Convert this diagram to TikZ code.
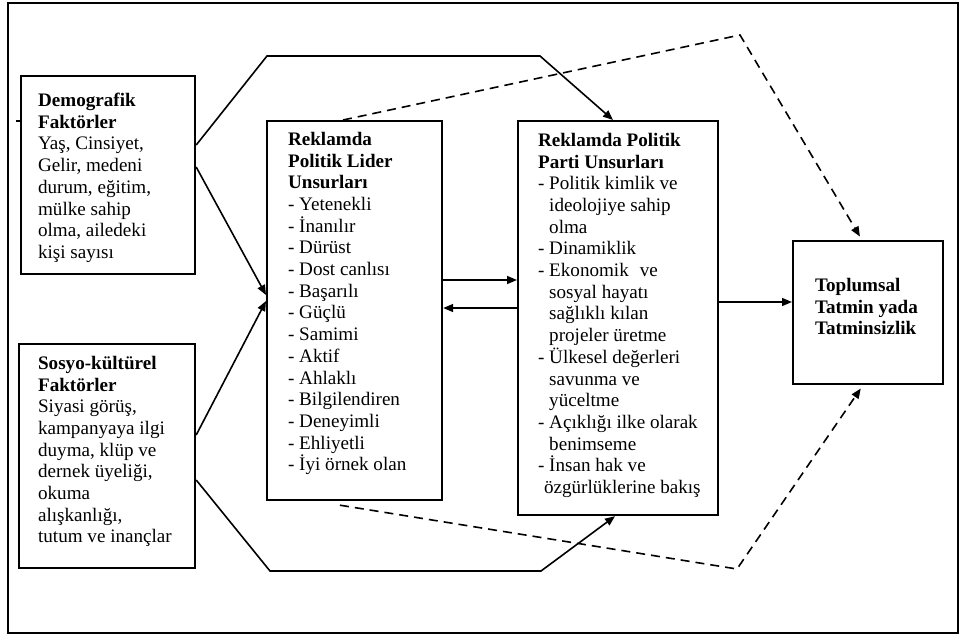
\documentclass[tikz,border=0pt]{standalone}
\usepackage{fontspec}
\setmainfont{Liberation Serif}
\usetikzlibrary{arrows.meta,calc}

\tikzset{
  kutu/.style={draw, line width=2.2pt, anchor=north west, inner sep=0pt},
  ok/.style={line width=1.6pt, -{Triangle[length=10pt,width=8pt]}},
  kesik/.style={ok, dash pattern=on 9pt off 6pt, shorten >=4pt},
}
% genislik, yukseklik, ust bosluk, sol bosluk, metin
\newcommand{\yazi}[5]{\parbox[c][#2pt][t]{#1pt}{\vspace*{#3pt}\leftskip=#4pt\relax
  \fontsize{19.1}{21.7}\selectfont #5}}
\newcommand{\ic}{\hphantom{- }}

\begin{document}
\begin{tikzpicture}[x=1pt, y=-1pt]
\useasboundingbox (0,0) rectangle (965,637);
\draw[line width=2.2pt] (8,3) rectangle (958,633);

\node[kutu] (demo) at (20,75) {\yazi{174}{198}{17}{17}{%
  \textbf{Demografik}\\
  \textbf{Faktörler}\\
  Yaş, Cinsiyet,\\
  Gelir, medeni\\
  durum, eğitim,\\
  mülke sahip\\
  olma, ailedeki\\
  kişi sayısı}};
\node[kutu] (sosyo) at (18,343) {\yazi{176}{224}{12}{19}{%
  \textbf{Sosyo-kültürel}\\
  \textbf{Faktörler}\\
  Siyasi görüş,\\
  kampanyaya ilgi\\
  duyma, klüp ve\\
  dernek üyeliği,\\
  okuma\\
  alışkanlığı,\\
  tutum ve inançlar}};
\node[kutu] (lider) at (266,120) {\yazi{175}{379}{11}{21}{%
  \textbf{Reklamda}\\
  \textbf{Politik Lider}\\
  \textbf{Unsurları}\\
  - Yetenekli\\
  - İnanılır\\
  - Dürüst\\
  - Dost canlısı\\
  - Başarılı\\
  - Güçlü\\
  - Samimi\\
  - Aktif\\
  - Ahlaklı\\
  - Bilgilendiren\\
  - Deneyimli\\
  - Ehliyetli\\
  - İyi örnek olan}};
\node[kutu] (parti) at (517,120) {\yazi{200}{394}{12}{20}{%
  \textbf{Reklamda Politik}\\
  \textbf{Parti Unsurları}\\
  - Politik kimlik ve\\
  \ic ideolojiye sahip\\
  \ic olma\\
  - Dinamiklik\\
  - Ekonomik\hspace{11pt}ve\\
  \ic sosyal hayatı\\
  \ic sağlıklı kılan\\
  \ic projeler üretme\\
  - Ülkesel değerleri\\
  \ic savunma ve\\
  \ic yüceltme\\
  - Açıklığı ilke olarak\\
  \ic benimseme\\
  - İnsan hak ve\\
  \hspace*{6pt}özgürlüklerine bakış}};
\node[kutu] (toplum) at (792,240) {\yazi{150}{143}{37}{22}{%
  \textbf{Toplumsal}\\
  \textbf{Tatmin yada}\\
  \textbf{Tatminsizlik}}};

\coordinate (u1) at (267,56);
\coordinate (u2) at (540,56);
\coordinate (a1) at (270,571);
\coordinate (a2) at (541,571);
\coordinate (tepe) at (740,35);
\coordinate (dip) at (737,569);

\draw[line width=1.6pt] ($(demo.north west)+(0,46)$) -- ++(-4,0);

\draw[ok] ($(demo.north east)+(0,70)$) -- (u1) -- (u2)
  -- ($(parti.north west)+(96,0)$);
\draw[ok] ($(sosyo.north east)+(0,137)$) -- (a1) -- (a2)
  -- ($(parti.south west)+(98,0)$);
\draw[ok] ($(demo.north east)+(0,92)$) -- ($(lider.north west)+(0,175)$);
\draw[ok] ($(sosyo.north east)+(0,92)$) -- ($(lider.north west)+(0,181)$);
\draw[ok] ($(lider.north east)+(0,160)$) -- ($(parti.north west)+(0,160)$);
\draw[ok] ($(parti.north west)+(0,188)$) -- ($(lider.north east)+(0,188)$);
\draw[ok] ($(parti.north east)+(0,182)$) -- ($(toplum.north west)+(0,62)$);

\draw[kesik] ($(lider.north west)+(77,0)$) -- (tepe)
  -- ($(toplum.north west)+(70,0)$);
\draw[kesik] ($(lider.south west)+(74,4)$) -- (dip)
  -- ($(toplum.south west)+(71,0)$);
\end{tikzpicture}
\end{document}
